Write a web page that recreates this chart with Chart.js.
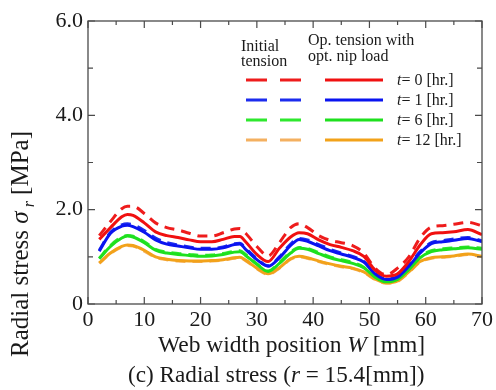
<!DOCTYPE html>
<html>
<head>
<meta charset="utf-8">
<script src="https://cdn.jsdelivr.net/npm/chart.js@4.4.0/dist/chart.umd.min.js"></script>
<style>
  html, body { margin: 0; padding: 0; background: #ffffff; }
  #wrap { width: 496px; height: 390px; position: relative; }
</style>
</head>
<body>
<div id="wrap"><canvas id="stressChart"></canvas></div>
<script>
// Radial stress across web width (r = 15.4 mm)

// web width position W [mm]
const widthPos = [2, 4, 6, 7, 8, 10, 12, 14, 16, 18, 20, 22, 24, 26, 27, 28, 30, 32, 34, 36, 37.5, 39, 41, 43, 45, 47, 49, 51, 53, 55, 57, 59, 61, 63, 65, 67.5, 70];

// initial tension (dashed) and op. tension with opt. nip load (solid), MPa
const t0Initial = [1.45, 1.75, 2.02, 2.07, 2.07, 1.92, 1.72, 1.62, 1.57, 1.50, 1.44, 1.44, 1.51, 1.59, 1.60, 1.50, 1.22, 1.02, 1.30, 1.62, 1.70, 1.62, 1.45, 1.35, 1.30, 1.24, 1.08, 0.76, 0.62, 0.76, 1.00, 1.40, 1.63, 1.66, 1.69, 1.73, 1.66];
const t0Optimized = [1.37, 1.62, 1.85, 1.90, 1.88, 1.72, 1.53, 1.45, 1.41, 1.36, 1.32, 1.32, 1.37, 1.43, 1.43, 1.32, 1.05, 0.90, 1.18, 1.42, 1.51, 1.49, 1.36, 1.26, 1.20, 1.13, 1.01, 0.72, 0.59, 0.64, 0.90, 1.25, 1.49, 1.51, 1.53, 1.58, 1.47];
const t1Initial = [1.14, 1.52, 1.68, 1.70, 1.68, 1.56, 1.40, 1.30, 1.25, 1.21, 1.18, 1.18, 1.21, 1.28, 1.29, 1.18, 0.96, 0.81, 1.00, 1.27, 1.39, 1.36, 1.26, 1.16, 1.08, 1.01, 0.90, 0.65, 0.53, 0.58, 0.82, 1.11, 1.30, 1.34, 1.38, 1.41, 1.34];
const t1Optimized = [1.12, 1.50, 1.65, 1.67, 1.64, 1.52, 1.36, 1.27, 1.23, 1.19, 1.16, 1.16, 1.19, 1.26, 1.27, 1.16, 0.94, 0.80, 0.98, 1.24, 1.37, 1.33, 1.23, 1.13, 1.06, 0.99, 0.89, 0.64, 0.52, 0.57, 0.80, 1.08, 1.28, 1.32, 1.35, 1.39, 1.32];
const t6Initial = [0.97, 1.24, 1.42, 1.45, 1.44, 1.32, 1.16, 1.10, 1.07, 1.05, 1.03, 1.04, 1.07, 1.12, 1.13, 1.05, 0.85, 0.70, 0.88, 1.10, 1.20, 1.18, 1.09, 1.00, 0.94, 0.88, 0.78, 0.58, 0.48, 0.53, 0.75, 1.00, 1.13, 1.17, 1.19, 1.21, 1.18];
const t6Optimized = [0.96, 1.22, 1.40, 1.44, 1.42, 1.30, 1.14, 1.08, 1.05, 1.03, 1.01, 1.02, 1.05, 1.10, 1.11, 1.03, 0.84, 0.69, 0.86, 1.08, 1.18, 1.16, 1.07, 0.98, 0.92, 0.86, 0.77, 0.57, 0.47, 0.52, 0.73, 0.98, 1.11, 1.15, 1.17, 1.19, 1.16];
const t12Initial = [0.86, 1.07, 1.21, 1.24, 1.23, 1.12, 0.99, 0.94, 0.91, 0.90, 0.90, 0.91, 0.93, 0.97, 0.98, 0.92, 0.75, 0.63, 0.76, 0.95, 1.00, 0.97, 0.90, 0.84, 0.79, 0.75, 0.67, 0.52, 0.44, 0.48, 0.67, 0.89, 0.97, 0.99, 1.01, 1.05, 1.00];
const t12Optimized = [0.87, 1.08, 1.22, 1.25, 1.24, 1.14, 1.00, 0.95, 0.92, 0.91, 0.91, 0.92, 0.94, 0.98, 0.99, 0.93, 0.76, 0.64, 0.77, 0.96, 1.01, 0.98, 0.91, 0.85, 0.80, 0.76, 0.68, 0.53, 0.45, 0.49, 0.68, 0.90, 0.98, 1.00, 1.02, 1.06, 1.01];

// legend rows and tick labels
const timeLabels = ["0", "1", "6", "12"];
const xTickLabels = [0, 10, 20, 30, 40, 50, 60, 70];
const yTickLabels = { 0: "0", 2: "2.0", 4: "4.0", 6: "6.0" };

const serif = "'Liberation Serif', 'Times New Roman', serif";
const axisColor = "#4a4a4a";
const textColor = "#1a1a1a";

// colour per time step: [initial (dashed), optimized (solid)]
const lineColors = [
  ["#ee1c1c", "#f01010"],
  ["#1c2cee", "#0a14f0"],
  ["#2ee82e", "#1ee01e"],
  ["#f4b060", "#f2a21a"],
];

function toPoints(ys) {
  return ys.map((y, i) => ({ x: widthPos[i], y: y }));
}

function makeSet(label, ys, color, dashed) {
  return {
    label: label,
    data: toPoints(ys),
    borderColor: color,
    backgroundColor: color,
    borderWidth: 3,
    borderDash: dashed ? [10, 7] : [],
    pointRadius: 0,
    fill: false,
    tension: 0.4,
    cubicInterpolationMode: "monotone",
  };
}

const initialSeries = [t0Initial, t1Initial, t6Initial, t12Initial];
const optimizedSeries = [t0Optimized, t1Optimized, t6Optimized, t12Optimized];

const datasets = [];
optimizedSeries.forEach((ys, i) => {
  datasets.push(makeSet("t=" + timeLabels[i] + " opt", ys, lineColors[i][1], false));
});
initialSeries.forEach((ys, i) => {
  datasets.push(makeSet("t=" + timeLabels[i] + " initial", ys, lineColors[i][0], true));
});

// draw text runs with mixed italic
function drawRuns(ctx, runs, x, y, size) {
  let cx = x;
  runs.forEach((r) => {
    ctx.font = (r.italic ? "italic " : "") + (r.size || size) + "px " + serif;
    ctx.fillText(r.text, cx, y + (r.dy || 0));
    cx += ctx.measureText(r.text).width;
  });
}

const framePlugin = {
  id: "frame",
  afterDraw(chart) {
    const { ctx, chartArea: a, scales } = chart;
    const xs = scales.x, ys = scales.y;
    ctx.save();

    // box
    ctx.strokeStyle = axisColor;
    ctx.lineWidth = 1.3;
    ctx.strokeRect(a.left, a.top, a.right - a.left, a.bottom - a.top);

    // inward ticks on all four sides
    ctx.lineWidth = 1.2;
    ctx.beginPath();
    for (let v = 0; v <= 70; v += 5) {
      const px = xs.getPixelForValue(v);
      const len = v % 10 === 0 ? 7 : 4;
      ctx.moveTo(px, a.bottom); ctx.lineTo(px, a.bottom - len);
      ctx.moveTo(px, a.top); ctx.lineTo(px, a.top + len);
    }
    for (let v = 0; v <= 6; v += 1) {
      const py = ys.getPixelForValue(v);
      const len = v % 2 === 0 ? 7 : 5;
      ctx.moveTo(a.left, py); ctx.lineTo(a.left + len, py);
      ctx.moveTo(a.right, py); ctx.lineTo(a.right - len, py);
    }
    ctx.stroke();

    // legend
    ctx.fillStyle = textColor;
    ctx.textBaseline = "alphabetic";
    ctx.textAlign = "left";
    drawRuns(ctx, [{ text: "Initial" }], 241, 51, 16);
    drawRuns(ctx, [{ text: "tension" }], 241, 66, 16);
    drawRuns(ctx, [{ text: "Op. tension with" }], 308, 45, 16);
    drawRuns(ctx, [{ text: "opt. nip load" }], 308, 61, 16);
    timeLabels.forEach((t, i) => {
      const ly = 80 + i * 20;
      ctx.lineWidth = 3;
      ctx.strokeStyle = lineColors[i][0];
      ctx.beginPath();
      ctx.moveTo(246, ly); ctx.lineTo(267, ly);
      ctx.moveTo(280, ly); ctx.lineTo(301, ly);
      ctx.stroke();
      ctx.strokeStyle = lineColors[i][1];
      ctx.beginPath();
      ctx.moveTo(325, ly); ctx.lineTo(383, ly);
      ctx.stroke();
      drawRuns(ctx, [{ text: "t", italic: true }, { text: "= " + t + " [hr.]" }], 397, ly + 5, 16);
    });

    // axis titles and caption
    drawRuns(ctx, [{ text: "Web width position " }, { text: "W", italic: true }, { text: " [mm]" }], 158, 352, 23.5);
    drawRuns(ctx, [{ text: "(c) Radial stress (" }, { text: "r", italic: true }, { text: " = 15.4[mm])" }], 128, 382, 23.2);

    ctx.translate(28, 357);
    ctx.rotate(-Math.PI / 2);
    drawRuns(ctx, [
      { text: "Radial stress " },
      { text: "\u03c3", italic: true },
      { text: " r", italic: true, size: 16, dy: 6 },
      { text: " [MPa]" },
    ], 0, 0, 25);
    ctx.restore();
  },
};

function initStressChart() {
  const ctx = document.getElementById("stressChart");

  const config = {
    type: "line",
    data: { datasets: datasets },
    options: {
      responsive: true,
      maintainAspectRatio: false,
      animation: false,
      layout: { padding: { top: 21, right: 12, left: 0, bottom: 0 } },
      plugins: {
        legend: { display: false },
        tooltip: { enabled: false },
      },
      scales: {
        x: {
          type: "linear",
          min: 0,
          max: 70,
          grid: { display: false, drawTicks: false },
          border: { display: false },
          ticks: {
            stepSize: 5,
            padding: 3,
            maxRotation: 0,
            autoSkip: false,
            color: textColor,
            font: { size: 22, family: serif },
            callback: function (value) {
              return xTickLabels.includes(value) ? String(value) : "";
            },
          },
          afterFit: function (scale) {
            scale.height = 86;
          },
        },
        y: {
          type: "linear",
          min: 0,
          max: 6,
          grid: { display: false, drawTicks: false },
          border: { display: false },
          ticks: {
            stepSize: 1,
            padding: 5,
            color: textColor,
            font: { size: 22, family: serif },
            callback: function (value) {
              return yTickLabels[value] !== undefined ? yTickLabels[value] : "";
            },
          },
          afterFit: function (scale) {
            scale.width = 88;
          },
        },
      },
    },
    plugins: [framePlugin],
  };

  return new Chart(ctx, config);
}

initStressChart();
</script>
</body>
</html>
